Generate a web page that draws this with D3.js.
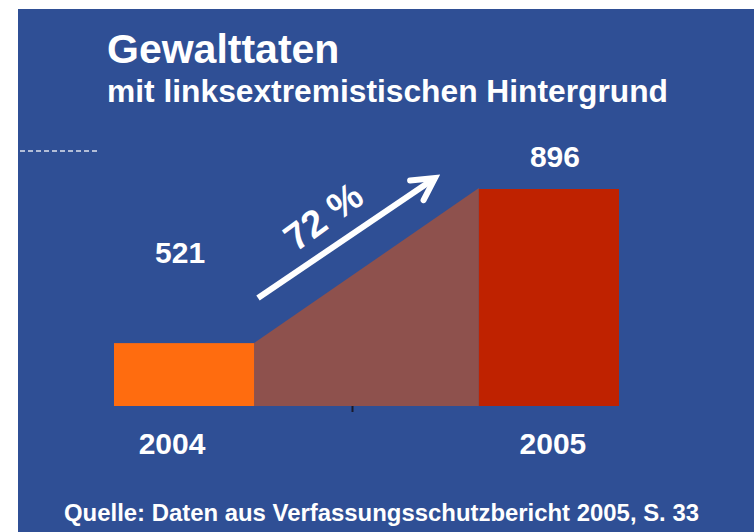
<!DOCTYPE html>
<html>
<head>
<meta charset="utf-8">
<script src="https://cdn.jsdelivr.net/npm/d3@7"></script>
<style>
  body { margin: 0; background: #fff; }
  text { font-family: "Liberation Sans", Arial, sans-serif; font-weight: bold; fill: #fff; }
</style>
</head>
<body>
<svg id="chart"></svg>
<script>
// Data
const years = ["2004", "2005"];
const values = [521, 896];
const growthLabel = "72 %";
const title = "Gewalttaten";
const subtitle = "mit linksextremistischen Hintergrund";
const source = "Quelle: Daten aus Verfassungsschutzbericht 2005, S. 33";

const W = 754, H = 532;
const barColors = ["#ff6c0f", "#bf2200"];

const svg = d3.select("#chart")
  .attr("width", W)
  .attr("height", H);

// Blue slide background
svg.append("rect")
  .attr("x", 18).attr("y", 9)
  .attr("width", W - 18).attr("height", H - 9)
  .attr("fill", "#2f4f95");

// Dashed guide on the left
svg.append("line")
  .attr("x1", 20).attr("x2", 98)
  .attr("y1", 151).attr("y2", 151)
  .attr("stroke", "#dfe3ee")
  .attr("stroke-width", 1.5)
  .attr("stroke-dasharray", "5,3");

// Scales (value axis does not start at zero)
const x = d3.scaleBand()
  .domain(years)
  .range([114, 619])
  .paddingInner(0.616);

const y = d3.scaleLinear()
  .domain([368, 896])
  .range([406, 189]);

const base = y.range()[0];

// Transition area between the two bars
const area = [
  [x(years[0]) + x.bandwidth(), y(values[0])],
  [x(years[1]), y(values[1]) - 1],
  [x(years[1]), base],
  [x(years[0]) + x.bandwidth(), base]
];
svg.append("path")
  .attr("d", d3.line()(area) + "Z")
  .attr("fill", "#8e514d");

// Bars
svg.selectAll("rect.bar")
  .data(values)
  .enter().append("rect")
  .attr("class", "bar")
  .attr("x", (d, i) => x(years[i]))
  .attr("y", d => y(d))
  .attr("width", x.bandwidth())
  .attr("height", d => base - y(d))
  .attr("fill", (d, i) => barColors[i]);

// Small tick under the middle
const midX = (x(years[0]) + x.bandwidth() + x(years[1])) / 2 - 14;
svg.append("line")
  .attr("x1", midX).attr("x2", midX)
  .attr("y1", base).attr("y2", base + 6)
  .attr("stroke", "#1a1a2a")
  .attr("stroke-width", 2);

// Value labels
const labelGap = [80, 22];
svg.selectAll("text.value")
  .data(values)
  .enter().append("text")
  .attr("class", "value")
  .attr("x", (d, i) => x(years[i]) + x.bandwidth() / 2 + (i === 0 ? -4 : 6))
  .attr("y", (d, i) => y(d) - labelGap[i])
  .attr("text-anchor", "middle")
  .attr("font-size", 30)
  .text(d => d);

// Year labels
svg.selectAll("text.year")
  .data(years)
  .enter().append("text")
  .attr("class", "year")
  .attr("x", (d, i) => x(d) + x.bandwidth() / 2 + (i === 0 ? -12 : 4))
  .attr("y", base + 48)
  .attr("text-anchor", "middle")
  .attr("font-size", 30)
  .text(d => d);

// Growth arrow
const a0 = [258, 298], a1 = [435, 178];
const ang = Math.atan2(a1[1] - a0[1], a1[0] - a0[0]);
svg.append("line")
  .attr("x1", a0[0]).attr("y1", a0[1])
  .attr("x2", a1[0] - 3 * Math.cos(ang)).attr("y2", a1[1] - 3 * Math.sin(ang))
  .attr("stroke", "#fff")
  .attr("stroke-width", 6);
const head = 25, spread = 0.5;
svg.append("path")
  .attr("d", d3.line()([
    [a1[0] - head * Math.cos(ang - spread), a1[1] - head * Math.sin(ang - spread)],
    a1,
    [a1[0] - head * Math.cos(ang + spread), a1[1] - head * Math.sin(ang + spread)]
  ]))
  .attr("fill", "none")
  .attr("stroke", "#fff")
  .attr("stroke-width", 6)
  .attr("stroke-linecap", "round")
  .attr("stroke-linejoin", "miter");

svg.append("text")
  .attr("transform", `translate(331,227) rotate(${ang * 180 / Math.PI - 2})`)
  .attr("text-anchor", "middle")
  .attr("font-size", 38)
  .text(growthLabel);

// Titles
svg.append("text")
  .attr("x", 107).attr("y", 63)
  .attr("font-size", 41)
  .text(title);

svg.append("text")
  .attr("x", 107).attr("y", 102)
  .attr("font-size", 31.5)
  .attr("textLength", 561)
  .attr("lengthAdjust", "spacingAndGlyphs")
  .text(subtitle);

// Source
svg.append("text")
  .attr("x", 64).attr("y", 521)
  .attr("font-size", 23)
  .attr("textLength", 635)
  .attr("lengthAdjust", "spacingAndGlyphs")
  .text(source);
</script>
</body>
</html>
